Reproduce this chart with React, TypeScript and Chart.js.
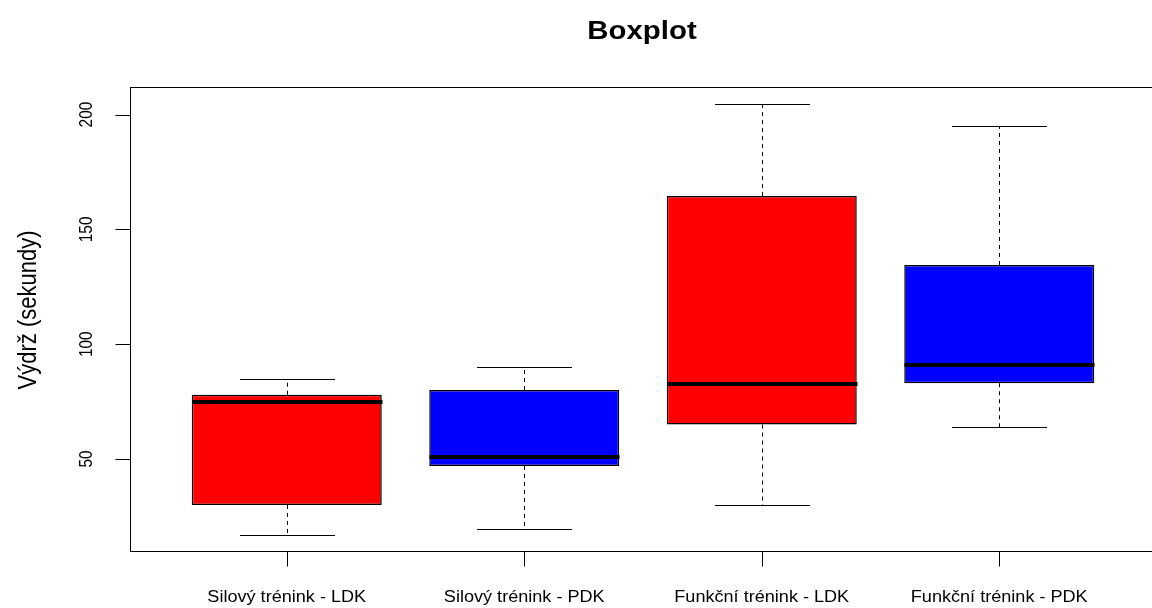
import React, { useEffect, useRef } from "react";
import { Chart, registerables } from "chart.js";

Chart.register(...registerables);

const categories = [
  "Silový trénink - LDK",
  "Silový trénink - PDK",
  "Funkční trénink - LDK",
  "Funkční trénink - PDK",
];
const whiskerLow = [17, 19.5, 30, 64];
const q1 = [30, 47, 65, 83];
const median = [75, 51, 82.5, 91];
const q3 = [78, 80, 164.5, 134.5];
const whiskerHigh = [85, 90, 204.5, 195];
const yTicks = [50, 100, 150, 200];
const xPositions = [1, 2, 3, 4];

const title = "Boxplot";
const yTitle = "Výdrž (sekundy)";
const FONT = '"Liberation Sans", Arial, sans-serif';
const SX = 1.13; // horizontal text stretch seen in the reference

function drawText(ctx: CanvasRenderingContext2D, text: string, x: number, y: number, rotated: boolean) {
  ctx.save();
  ctx.translate(x, y);
  ctx.scale(SX, 1);
  if (rotated) ctx.rotate(-Math.PI / 2);
  ctx.fillText(text, 0, 0);
  ctx.restore();
}

const boxPlugin = {
  id: "boxExtras",
  afterDatasetsDraw(chart: any) {
    const ctx = chart.ctx;
    const xs = chart.scales.x;
    const ys = chart.scales.y;
    const meta = chart.getDatasetMeta(0);
    const area = chart.chartArea;
    ctx.save();
    for (let i = 0; i < categories.length; i++) {
      const el = meta.data[i];
      const w = el.width;
      const cx = Math.round(xs.getPixelForValue(xPositions[i])) + 0.5;
      const yLo = Math.round(ys.getPixelForValue(whiskerLow[i])) + 0.5;
      const yHi = Math.round(ys.getPixelForValue(whiskerHigh[i])) + 0.5;
      const yQ1 = ys.getPixelForValue(q1[i]);
      const yQ3 = ys.getPixelForValue(q3[i]);
      const yMed = Math.round(ys.getPixelForValue(median[i]));
      ctx.strokeStyle = "#000";
      ctx.lineWidth = 1;
      ctx.setLineDash([4, 4]);
      ctx.beginPath();
      ctx.moveTo(cx, yQ3);
      ctx.lineTo(cx, yHi);
      ctx.moveTo(cx, yQ1);
      ctx.lineTo(cx, yLo);
      ctx.stroke();
      ctx.setLineDash([]);
      ctx.beginPath();
      ctx.moveTo(cx - w / 4, yHi);
      ctx.lineTo(cx + w / 4, yHi);
      ctx.moveTo(cx - w / 4, yLo);
      ctx.lineTo(cx + w / 4, yLo);
      ctx.stroke();
      ctx.lineWidth = 4;
      ctx.beginPath();
      ctx.moveTo(cx - w / 2, yMed);
      ctx.lineTo(cx + w / 2, yMed);
      ctx.stroke();
    }
    // frame
    ctx.lineWidth = 1;
    ctx.strokeStyle = "#000";
    ctx.strokeRect(
      Math.round(area.left) + 0.5,
      Math.round(area.top) + 0.5,
      Math.round(area.right - area.left) - 1,
      Math.round(area.bottom - area.top) - 1
    );
    const left = Math.round(area.left) + 0.5;
    const bottom = Math.round(area.bottom) - 0.5;
    const tickLen = 15;
    ctx.beginPath();
    for (const v of yTicks) {
      const y = Math.round(ys.getPixelForValue(v)) + 0.5;
      ctx.moveTo(left, y);
      ctx.lineTo(left - tickLen, y);
    }
    for (const v of xPositions) {
      const x = Math.round(xs.getPixelForValue(v)) + 0.5;
      ctx.moveTo(x, bottom);
      ctx.lineTo(x, bottom + tickLen);
    }
    ctx.stroke();
    ctx.fillStyle = "#000";
    ctx.textAlign = "center";
    ctx.textBaseline = "middle";
    ctx.font = `15.5px ${FONT}`;
    for (const v of yTicks) {
      drawText(ctx, String(v), 87, ys.getPixelForValue(v), true);
    }
    ctx.font = `16px ${FONT}`;
    for (let i = 0; i < categories.length; i++) {
      drawText(ctx, categories[i], xs.getPixelForValue(xPositions[i]), 598, false);
    }
    ctx.font = `22px ${FONT}`;
    drawText(ctx, yTitle, 29, 310, true);
    ctx.font = `bold 26px ${FONT}`;
    drawText(ctx, title, 642, 32, false);
    ctx.restore();
  },
};

export default function App() {
  const ref = useRef<HTMLCanvasElement | null>(null);
  useEffect(() => {
    if (!ref.current) return;
    const chart = new Chart(ref.current, {
      type: "bar",
      data: {
        datasets: [
          {
            data: categories.map((_, i) => ({ x: xPositions[i], y: [q1[i], q3[i]] })) as any,
            backgroundColor: ["#FF0000", "#0000FF", "#FF0000", "#0000FF"],
            borderColor: "#000",
            borderWidth: 1.5,
            borderSkipped: false,
            barPercentage: 0.8,
            categoryPercentage: 1,
          },
        ],
      },
      options: {
        animation: false,
        responsive: false,
        devicePixelRatio: 1,
        layout: { padding: { left: 130, right: 4, top: 87, bottom: 56 } },
        plugins: { legend: { display: false }, tooltip: { enabled: false }, title: { display: false } },
        scales: {
          x: {
            type: "linear",
            min: 0.34,
            max: 4.66,
            offset: false,
            display: false,
            afterBuildTicks: (scale: any) => {
              scale.ticks = xPositions.map((v) => ({ value: v }));
            },
          },
          y: {
            type: "linear",
            min: 9.5,
            max: 212,
            display: false,
          },
        },
      },
      plugins: [boxPlugin],
    });
    return () => chart.destroy();
  }, []);
  return (
    <div style={{ position: "absolute", left: 0, top: 0, width: 1152, height: 608, overflow: "hidden", background: "#fff" }}>
      <canvas ref={ref} width={1160} height={608} style={{ display: "block" }} />
    </div>
  );
}
